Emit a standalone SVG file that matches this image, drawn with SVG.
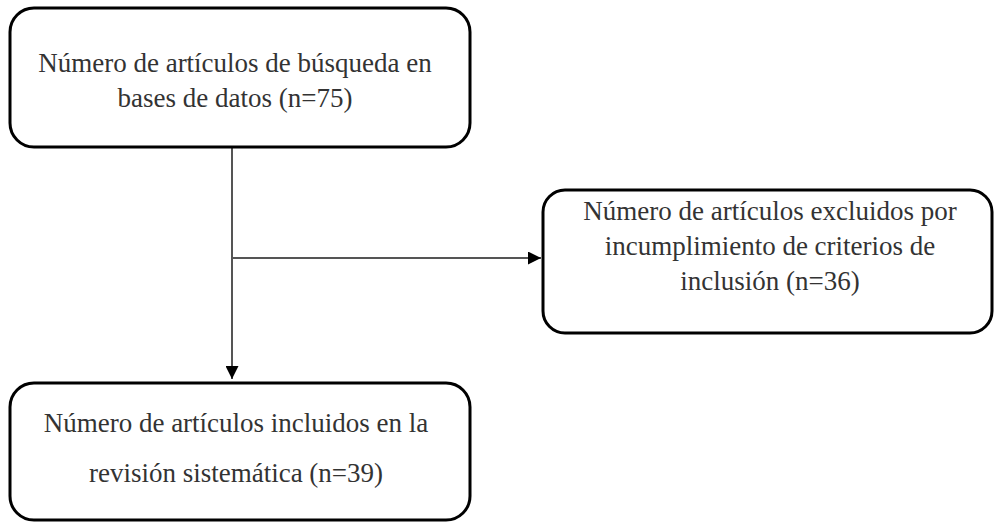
<svg xmlns="http://www.w3.org/2000/svg" width="994" height="522" viewBox="0 0 994 522">
<defs>
<style>
.box{fill:#fff;stroke:#000;stroke-width:3}
.t{font-family:"Liberation Serif","Times New Roman",serif;font-size:27px;fill:#333;text-anchor:middle}
.c{fill:none;stroke:#555;stroke-width:2}
</style>
<marker id="ah" viewBox="0 0 10 10" refX="10" refY="5" markerWidth="6.5" markerHeight="6.5" markerUnits="strokeWidth" orient="auto">
<path d="M0,0 L10,5 L0,10 z" fill="#000"/>
</marker>
</defs>
<rect width="994" height="522" fill="#fff"/>
<g id="connectors">
<path class="c" d="M232,148 V379" marker-end="url(#ah)"/>
<path class="c" d="M232,258 H541" marker-end="url(#ah)"/>
</g>
<g id="n1">
<rect class="box" x="10" y="8" width="460" height="139" rx="24"/>
<text class="t" x="235" y="72">Número de artículos de búsqueda en</text>
<text class="t" x="235" y="107">bases de datos (n=75)</text>
</g>
<g id="n2">
<rect class="box" x="543" y="190" width="449" height="143" rx="22"/>
<text class="t" x="770" y="220">Número de artículos excluidos por</text>
<text class="t" x="770" y="255">incumplimiento de criterios de</text>
<text class="t" x="770" y="290">inclusión (n=36)</text>
</g>
<g id="n3">
<rect class="box" x="10" y="383" width="460" height="137" rx="24"/>
<text class="t" x="236" y="432">Número de artículos incluidos en la</text>
<text class="t" x="236" y="482">revisión sistemática (n=39)</text>
</g>
</svg>
